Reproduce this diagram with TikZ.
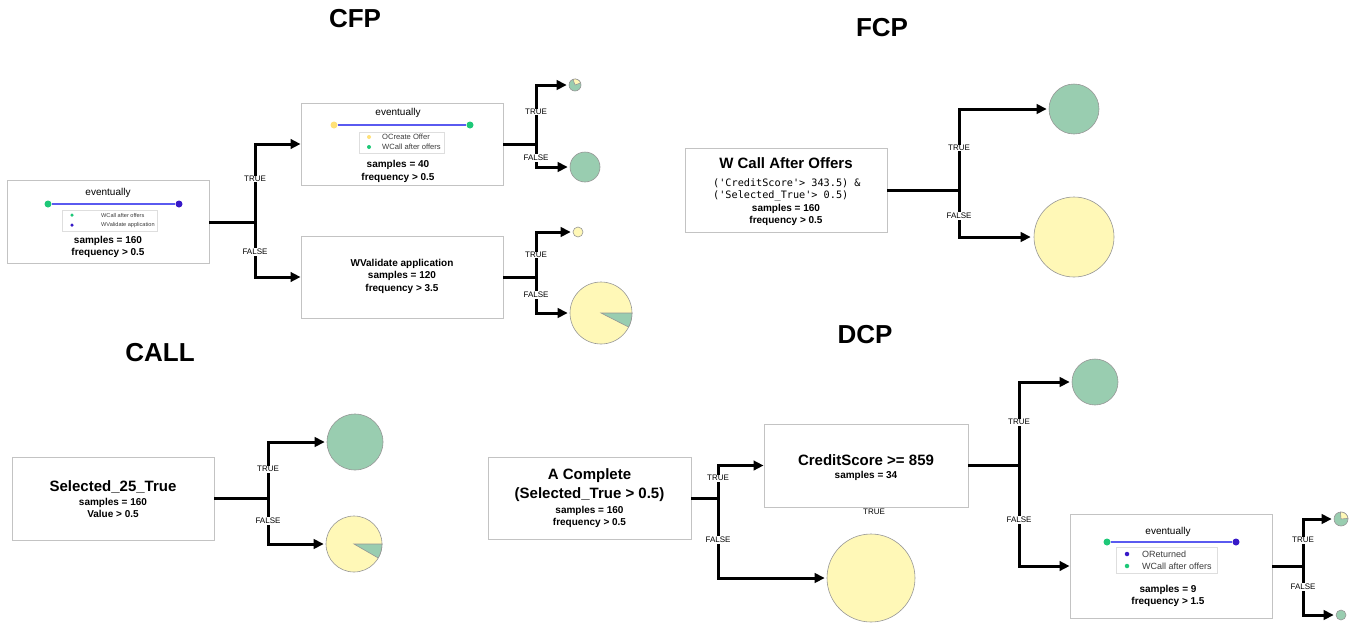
\documentclass[tikz,border=0pt]{standalone}
\usepackage{fontspec}
\setmainfont{Liberation Sans}
\setmonofont{DejaVu Sans Mono}
\usetikzlibrary{arrows.meta}
\definecolor{piegreen}{RGB}{153,205,176}
\definecolor{pieyellow}{RGB}{255,248,183}
\definecolor{pieedge}{RGB}{150,150,150}
\definecolor{boxgray}{RGB}{195,195,195}
\definecolor{leggray}{RGB}{222,222,222}
\definecolor{dotgreen}{RGB}{30,200,120}
\definecolor{dotblue}{RGB}{55,25,200}
\definecolor{dotyellow}{RGB}{255,225,120}
\definecolor{linkblue}{RGB}{90,90,240}
\definecolor{legtext}{RGB}{60,60,60}
\newcommand{\fsz}[2]{\fontsize{#1}{#2}\selectfont}
\begin{document}
\begin{tikzpicture}[x=1pt,y=-1pt,
  box/.style={draw=boxgray, line width=0.9pt, fill=white, inner sep=0pt},
  legbox/.style={draw=leggray, line width=0.6pt, fill=white, inner sep=0pt},
  conn/.style={line width=3pt},
  arr/.style={line width=3pt, -{Triangle[length=10pt,width=9.5pt]}},
  lbl/.style={font=\fsz{8}{9}, fill=white, inner sep=0.7pt},
  pie/.style={circle, draw=pieedge, line width=0.6pt, inner sep=0pt},
  slice/.style={fill=#1, draw=pieedge, line width=0.6pt},
  ttl/.style={font=\fsz{26}{30}\bfseries, inner sep=0pt},
  dot/.style={circle, inner sep=0pt, minimum size=#1, draw=none},
  big/.style={font=\fsz{15}{18}\bfseries, inner sep=0pt},
  stats/.style={font=\fsz{10}{12}\bfseries, align=center, inner sep=0pt},
  ev/.style={font=\fsz{10}{12}, inner sep=0pt},
  legt/.style={anchor=west, inner sep=0pt, text=legtext},
  mono/.style={anchor=west, font=\ttfamily\fsz{10.2}{12}, inner sep=0pt},
  linkline/.style={draw=linkblue, line width=1.2pt}
]
\useasboundingbox (0,0) rectangle (1352,622);

% ---------- titles ----------
\node[ttl] (tcfp) at (355,19) {CFP};
\node[ttl] (tfcp) at (882,28) {FCP};
\node[ttl] (tcall) at (160,353) {CALL};
\node[ttl] (tdcp) at (865,335) {DCP};

% ================= CFP =================
\node[box, minimum width=202pt, minimum height=83pt] (cfpA) at (108,222) {};
\node[ev] (cfpAev) at (108,193) {eventually};
\node[dot=7pt, fill=dotgreen] (cfpAd1) at (48,204) {};
\node[dot=7pt, fill=dotblue] (cfpAd2) at (179,204) {};
\draw[linkline] (cfpAd1) -- (cfpAd2);
\node[legbox, minimum width=95pt, minimum height=21pt] (cfpAleg) at (109.5,220.5) {};
\node[dot=3.5pt, fill=dotgreen] (cfpAl1) at (72,215) {};
\node[legt, font=\fsz{5.6}{6}] (cfpAt1) at (101,215) {WCall after offers};
\node[dot=3.5pt, fill=dotblue] (cfpAl2) at (72,225) {};
\node[legt, font=\fsz{5.6}{6}] (cfpAt2) at (101,225) {WValidate application};
\node[stats] (cfpAs) at (108,247) {samples = 160\\frequency > 0.5};

\node[box, minimum width=202pt, minimum height=82pt] (cfpB) at (402,144) {};
\node[ev] (cfpBev) at (398,113) {eventually};
\node[dot=7pt, fill=dotyellow] (cfpBd1) at (334,125) {};
\node[dot=7pt, fill=dotgreen] (cfpBd2) at (470,125) {};
\draw[linkline] (cfpBd1) -- (cfpBd2);
\node[legbox, minimum width=85pt, minimum height=21pt] (cfpBleg) at (401.5,142.5) {};
\node[dot=4pt, fill=dotyellow] (cfpBl1) at (369,137) {};
\node[legt, font=\fsz{7.6}{8}] (cfpBt1) at (382,137) {OCreate Offer};
\node[dot=4pt, fill=dotgreen] (cfpBl2) at (369,147) {};
\node[legt, font=\fsz{7.6}{8}] (cfpBt2) at (382,147) {WCall after offers};
\node[stats, font=\fsz{10}{13}\bfseries] (cfpBs) at (398,171) {samples = 40\\frequency > 0.5};

\node[box, minimum width=202pt, minimum height=82pt] (cfpC) at (402,277) {};
\node[stats, font=\fsz{10}{12.5}\bfseries] (cfpCs) at (402,276) {WValidate application\\samples = 120\\frequency > 3.5};

\path (cfpA.east) ++(46,0) coordinate (cfpJ);
\draw[conn] (cfpA.east) -- (cfpJ);
\draw[arr] (cfpJ) |- (cfpB.west);
\draw[arr] (cfpJ) |- (cfpC.west);
\node[lbl] (cfpT) at (255,179) {TRUE};
\node[lbl] (cfpF) at (255,252) {FALSE};

\node[pie, fill=piegreen, minimum size=12pt] (p1) at (575,85) {};
\filldraw[slice=pieyellow] (p1.center) -- ++(20:6pt) arc[start angle=20, end angle=110, radius=6pt] -- cycle;
\node[pie, fill=piegreen, minimum size=30pt] (p2) at (585,167) {};
\path (cfpB.east) ++(33,0) coordinate (cfpBJ);
\draw[conn] (cfpB.east) -- (cfpBJ);
\draw[arr] (cfpBJ) |- ([xshift=-2pt]p1.west);
\draw[arr] (cfpBJ) |- ([xshift=-2pt]p2.west);
\node[lbl] (cfpBT) at (536,112) {TRUE};
\node[lbl] (cfpBF) at (536,158) {FALSE};

\node[pie, fill=pieyellow, minimum size=10pt] (p3) at (578,232) {};
\node[pie, fill=pieyellow, minimum size=62pt] (p4) at (601,313) {};
\filldraw[slice=piegreen] (p4.center) -- ++(0:31pt) arc[start angle=0, end angle=-27, radius=31pt] -- cycle;
\path (cfpC.east) ++(33,0) coordinate (cfpCJ);
\draw[conn] (cfpC.east) -- (cfpCJ);
\draw[arr] (cfpCJ) |- ([xshift=-2pt]p3.west);
\draw[arr] (cfpCJ) |- ([xshift=-2pt]p4.west);
\node[lbl] (cfpCT) at (536,255) {TRUE};
\node[lbl] (cfpCF) at (536,295) {FALSE};

% ================= FCP =================
\node[box, minimum width=202pt, minimum height=84pt] (fcpA) at (786,190) {};
\node[big] (fcpAt) at (786,163) {W Call After Offers};
\node[mono] (fcpAm1) at (713,183.5) {('CreditScore'> 343.5) \&};
\node[mono] (fcpAm2) at (713,195.5) {('Selected\_True'> 0.5)};
\node[stats] (fcpAs) at (786,214.5) {samples = 160\\frequency > 0.5};
\node[pie, fill=piegreen, minimum size=50pt] (p5) at (1074,109) {};
\node[pie, fill=pieyellow, minimum size=80pt] (p6) at (1074,237) {};
\path (fcpA.east) ++(72,0) coordinate (fcpJ);
\draw[conn] (fcpA.east) -- (fcpJ);
\draw[arr] (fcpJ) |- ([xshift=-2pt]p5.west);
\draw[arr] (fcpJ) |- ([xshift=-3pt]p6.west);
\node[lbl] (fcpT) at (959,148) {TRUE};
\node[lbl] (fcpF) at (959,216) {FALSE};

% ================= CALL =================
\node[box, minimum width=202pt, minimum height=83pt] (callA) at (113,498.5) {};
\node[big] (callAt) at (113,487) {Selected\_25\_True};
\node[stats] (callAs) at (113,508) {samples = 160\\Value > 0.5};
\node[pie, fill=piegreen, minimum size=56pt] (p7) at (355,442) {};
\node[pie, fill=pieyellow, minimum size=56pt] (p8) at (354,544) {};
\filldraw[slice=piegreen] (p8.center) -- ++(0:28pt) arc[start angle=0, end angle=-30, radius=28pt] -- cycle;
\path (callA.east) ++(54,0) coordinate (callJ);
\draw[conn] (callA.east) -- (callJ);
\draw[arr] (callJ) |- ([xshift=-2pt]p7.west);
\draw[arr] (callJ) |- ([xshift=-2pt]p8.west);
\node[lbl] (callT) at (268,469) {TRUE};
\node[lbl] (callF) at (268,521) {FALSE};

% ================= DCP =================
\node[box, minimum width=203pt, minimum height=82pt] (dcpA) at (589.5,498) {};
\node[big] (dcpAt1) at (589.5,476) {A Complete};
\node[big] (dcpAt2) at (589.5,495) {(Selected\_True > 0.5)};
\node[stats] (dcpAs) at (589.5,516.5) {samples = 160\\frequency > 0.5};

\node[box, minimum width=204pt, minimum height=83pt] (dcpB) at (866,465.5) {};
\node[big] (dcpBt) at (866,460) {CreditScore >= 859};
\node[stats] (dcpBs) at (866,476) {samples = 34};
\node[font=\fsz{8}{9}, inner sep=0pt] (dcpBlow) at (874,512) {TRUE};

\node[pie, fill=pieyellow, minimum size=88pt] (p9) at (871,578) {};
\path (dcpA.east) ++(27,0) coordinate (dcpJ);
\draw[conn] (dcpA.east) -- (dcpJ);
\draw[arr] (dcpJ) |- (dcpB.west);
\draw[arr] (dcpJ) |- ([xshift=-2pt]p9.west);
\node[lbl] (dcpT) at (718,478) {TRUE};
\node[lbl] (dcpF) at (718,540) {FALSE};

\node[box, minimum width=202pt, minimum height=104pt] (dcpC) at (1171,566) {};
\node[ev] (dcpCev) at (1168,532) {eventually};
\node[dot=7pt, fill=dotgreen] (dcpCd1) at (1107,542) {};
\node[dot=7pt, fill=dotblue] (dcpCd2) at (1236,542) {};
\draw[linkline] (dcpCd1) -- (dcpCd2);
\node[legbox, minimum width=101pt, minimum height=26pt] (dcpCleg) at (1166.5,560) {};
\node[dot=4.5pt, fill=dotblue] (dcpCl1) at (1127,554) {};
\node[legt, font=\fsz{9}{10}] (dcpCt1) at (1142,554) {OReturned};
\node[dot=4.5pt, fill=dotgreen] (dcpCl2) at (1127,566) {};
\node[legt, font=\fsz{9}{10}] (dcpCt2) at (1142,566) {WCall after offers};
\node[stats] (dcpCs) at (1168,596) {samples = 9\\frequency > 1.5};

\node[pie, fill=piegreen, minimum size=46pt] (p10) at (1095,382) {};
\path (dcpB.east) ++(51,0) coordinate (dcpBJ);
\draw[conn] (dcpB.east) -- (dcpBJ);
\draw[arr] (dcpBJ) |- ([xshift=-2pt]p10.west);
\draw[arr] (dcpBJ) |- (dcpC.west);
\node[lbl] (dcpBT) at (1019,422) {TRUE};
\node[lbl] (dcpBF) at (1019,520) {FALSE};

\node[pie, fill=piegreen, minimum size=14pt] (p11) at (1341,519) {};
\filldraw[slice=pieyellow] (p11.center) -- ++(5:7pt) arc[start angle=5, end angle=95, radius=7pt] -- cycle;
\node[pie, fill=piegreen, minimum size=10pt] (p12) at (1341,615) {};
\path (dcpC.east) ++(31,0) coordinate (dcpCJ);
\draw[conn] (dcpC.east) -- (dcpCJ);
\draw[arr] (dcpCJ) |- ([xshift=-2pt]p11.west);
\draw[arr] (dcpCJ) |- ([xshift=-2pt]p12.west);
\node[lbl] (dcpCT) at (1303,540) {TRUE};
\node[lbl] (dcpCF) at (1303,587) {FALSE};
\end{tikzpicture}
\end{document}
